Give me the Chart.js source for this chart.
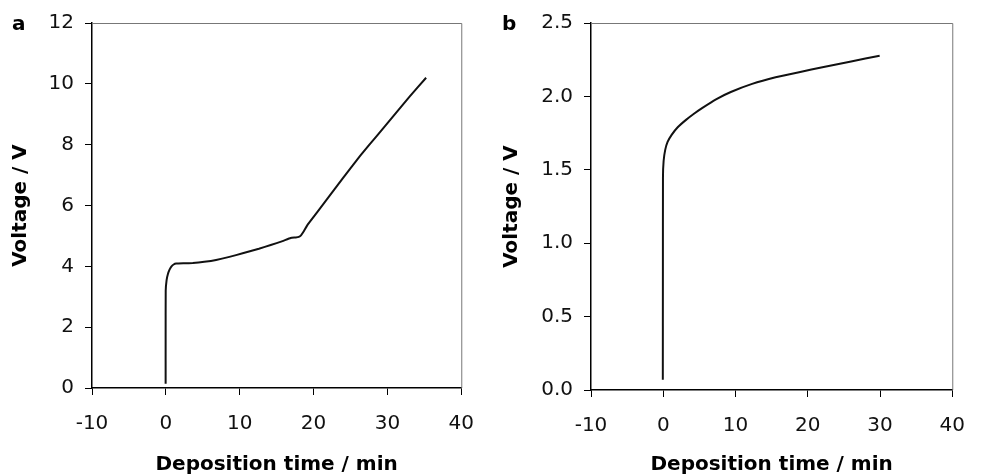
<!DOCTYPE html>
<html>
<head>
<meta charset="utf-8">
<script src="https://cdn.jsdelivr.net/npm/chart.js@4"></script>
<style>
  html, body { margin: 0; padding: 0; background: #fff; }
  #wrap { width: 982px; height: 475px; display: flex; }
  .panel { width: 491px; height: 475px; position: relative; }
</style>
</head>
<body>
<div id="wrap">
  <div class="panel"><canvas id="chartA"></canvas></div>
  <div class="panel"><canvas id="chartB"></canvas></div>
</div>
<script>
// panel a: deposition time (min) vs voltage (V)
const timeA = [-0.03, -0.03, -0.02, 0.1, 0.28, 0.5, 0.74, 1.05, 1.4, 2.5, 3.65, 5.2, 6.8, 8.6, 10.4, 12.6, 14.2, 15.8, 16.9, 17.6, 18.0, 18.3, 18.7, 19.2, 21.8, 24.0, 26.3, 28.6, 30.8, 33.0, 35.24];
const voltA = [0.14, 1.6, 3.2, 3.55, 3.75, 3.89, 3.99, 4.06, 4.09, 4.10, 4.11, 4.15, 4.21, 4.31, 4.43, 4.58, 4.70, 4.83, 4.93, 4.95, 4.97, 5.02, 5.16, 5.37, 6.2, 6.91, 7.63, 8.3, 8.94, 9.58, 10.2];

// panel b
const timeB = [-0.06, -0.05, -0.04, 0.05, 0.27, 0.6, 1.16, 2.0, 3.15, 4.2, 5.37, 7.3, 9.35, 12.3, 15.55, 18.8, 22.2, 26.0, 29.95];
const voltB = [0.07, 0.8, 1.45, 1.56, 1.636, 1.69, 1.738, 1.79, 1.84, 1.88, 1.92, 1.98, 2.03, 2.085, 2.13, 2.165, 2.20, 2.238, 2.277];

const xTicks = [-10, 0, 10, 20, 30, 40];
const yTicksA = [0, 2, 4, 6, 8, 10, 12];
const yTicksB = [0, 0.5, 1.0, 1.5, 2.0, 2.5];

Chart.defaults.font.family = "'DejaVu Sans', sans-serif";
Chart.defaults.color = '#111';

// grey top/right frame plus the panel letter
const framePlugin = {
  id: 'frame',
  afterDraw(chart, args, opts) {
    const { ctx, chartArea: a } = chart;
    ctx.save();
    ctx.strokeStyle = '#777';
    ctx.lineWidth = 1;
    ctx.beginPath();
    ctx.moveTo(a.left, a.top + 0.5);
    ctx.lineTo(a.right + 0.5, a.top + 0.5);
    ctx.lineTo(a.right + 0.5, a.bottom);
    ctx.stroke();
    ctx.fillStyle = '#000';
    ctx.font = "bold 20px 'DejaVu Sans', sans-serif";
    ctx.textBaseline = 'alphabetic';
    ctx.fillText(opts.letter, opts.lx, 30);
    ctx.restore();
  }
};

function makeChart(id, xs, ys, yTicks, yMax, fmt, pad, yWidth, xHeight, letter, lx) {
  const points = xs.map((x, i) => ({ x: x, y: ys[i] }));
  return new Chart(document.getElementById(id), {
    type: 'scatter',
    data: {
      datasets: [{
        data: points,
        showLine: true,
        borderColor: '#111',
        borderWidth: 2,
        pointRadius: 0,
        tension: 0.1
      }]
    },
    options: {
      responsive: true,
      maintainAspectRatio: false,
      animation: false,
      layout: { padding: pad },
      plugins: {
        legend: { display: false },
        tooltip: { enabled: false },
        frame: { letter: letter, lx: lx }
      },
      scales: {
        x: {
          type: 'linear',
          min: -10,
          max: 40,
          afterBuildTicks: s => { s.ticks = xTicks.map(v => ({ value: v })); },
          afterFit: s => { s.height = xHeight; },
          ticks: { font: { size: 20 }, padding: 17, maxRotation: 0, color: '#111' },
          grid: { drawOnChartArea: false, drawTicks: true, tickLength: 7, tickColor: '#000', tickWidth: 1 },
          border: { color: '#000', width: 1.5 },
          title: {
            display: true,
            text: 'Deposition time / min',
            font: { size: 20, weight: 'bold', lineHeight: 1.0 },
            padding: { top: 0, bottom: 0 },
            color: '#000'
          }
        },
        y: {
          type: 'linear',
          min: 0,
          max: yMax,
          afterBuildTicks: s => { s.ticks = yTicks.map(v => ({ value: v })); },
          afterFit: s => { s.width = yWidth; },
          ticks: { font: { size: 20 }, padding: 11, color: '#111', callback: fmt },
          grid: { drawOnChartArea: false, drawTicks: true, tickLength: 7, tickColor: '#000', tickWidth: 1 },
          border: { color: '#000', width: 1.5 },
          title: {
            display: true,
            text: 'Voltage / V',
            font: { size: 20, weight: 'bold', lineHeight: 1.0 },
            padding: { top: 11, bottom: 0 },
            color: '#000'
          }
        }
      }
    },
    plugins: [framePlugin]
  });
}

makeChart('chartA', timeA, voltA, yTicksA, 12, v => String(v),
  { left: 0, right: 28, top: 22, bottom: 0 }, 92, 87, 'a', 12);
makeChart('chartB', timeB, voltB, yTicksB, 2.5, v => v.toFixed(1),
  { left: 0, right: 15, top: 23, bottom: 0 }, 100, 85, 'b', 11);
</script>
</body>
</html>
